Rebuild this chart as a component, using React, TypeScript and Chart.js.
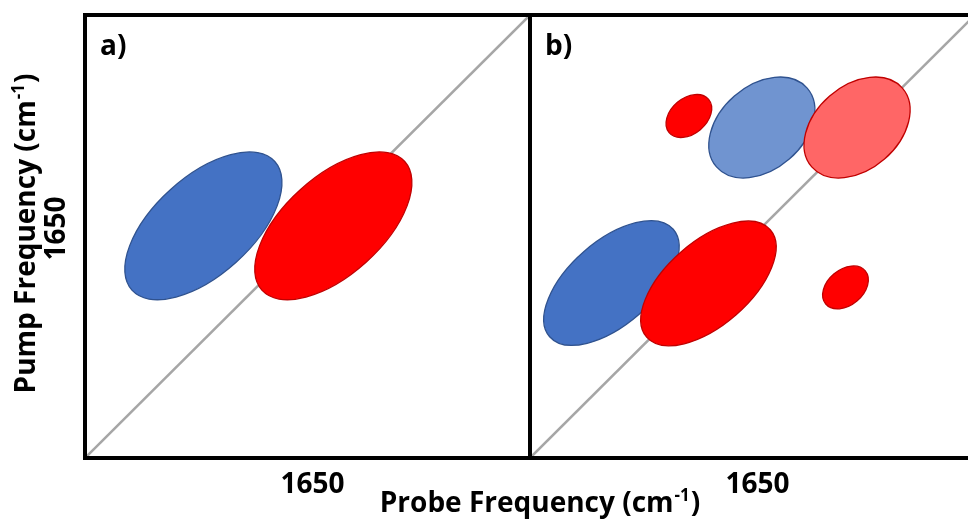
import React, { useEffect, useRef } from 'react';
import { Chart, registerables } from 'chart.js';

Chart.register(...registerables);

// ---- data ----
const panelLabels = ['a)', 'b)'];
const panelStarts = [0, 1];
const xTickValues = [0.5, 1.5];
const xTickLabels = ['1650', '1650'];
const yTickValues = [0.5];
const yTickLabels = ['1650'];
const xTitleMain = 'Probe Frequency (cm';
const yTitleMain = 'Pump Frequency (cm';
const titleSup = '-1';
const titleTail = ')';

const diagonalA = [{ x: 0, y: 0 }, { x: 1, y: 1 }];
const diagonalB = [{ x: 1, y: 0 }, { x: 2, y: 1 }];

// peak centres (probe, pump), semi-axes and tilt
const peakX = [0.266, 0.558, 1.357, 1.521, 1.735, 1.183, 1.401, 1.709];
const peakY = [0.524, 0.524, 0.772, 0.746, 0.746, 0.395, 0.394, 0.385];
const peakMajor = [0.216, 0.216, 0.058, 0.135, 0.135, 0.184, 0.184, 0.058];
const peakMinor = [0.110, 0.110, 0.040, 0.094, 0.094, 0.094, 0.094, 0.040];
const peakTilt = [42, 42, 40, 41, 41, 41, 41, 40];
const peakKind = ['neg', 'pos', 'pos', 'negWeak', 'posWeak', 'neg', 'pos', 'pos'];

const KIND_STYLE: Record<string, { fill: string; stroke: string }> = {
  neg: { fill: '#4472C4', stroke: '#2F528F' },
  pos: { fill: '#FF0000', stroke: '#C00000' },
  negWeak: { fill: '#7094D0', stroke: '#2F528F' },
  posWeak: { fill: '#FF6666', stroke: '#C00000' },
};

const FONT = '"Open Sans", "DejaVu Sans", sans-serif';
const CANVAS_W = 990;
const CANVAS_H = 519;

function drawSupText(
  ctx: CanvasRenderingContext2D,
  main: string,
  sup: string,
  tail: string,
  cx: number,
  baseline: number,
  size: number
) {
  const mainFont = `bold ${size}px ${FONT}`;
  const supFont = `bold ${Math.round(size * 0.6)}px ${FONT}`;
  ctx.font = mainFont;
  const w1 = ctx.measureText(main).width;
  const w3 = ctx.measureText(tail).width;
  ctx.font = supFont;
  const w2 = ctx.measureText(sup).width;
  const start = cx - (w1 + w2 + w3) / 2;
  ctx.textAlign = 'left';
  ctx.textBaseline = 'alphabetic';
  ctx.font = mainFont;
  ctx.fillText(main, start, baseline);
  ctx.font = supFont;
  ctx.fillText(sup, start + w1 + 1, baseline - size * 0.4);
  ctx.font = mainFont;
  ctx.fillText(tail, start + w1 + w2 + 2, baseline);
}

const spectraPlugin = {
  id: 'spectra',
  afterDatasetsDraw(chart: any) {
    const ctx: CanvasRenderingContext2D = chart.ctx;
    const xs = chart.scales.x;
    const ys = chart.scales.y;
    const unit = xs.getPixelForValue(1) - xs.getPixelForValue(0);
    ctx.save();
    for (let i = 0; i < peakX.length; i++) {
      const st = KIND_STYLE[peakKind[i]];
      const px = xs.getPixelForValue(peakX[i]);
      const py = ys.getPixelForValue(peakY[i]);
      ctx.beginPath();
      ctx.ellipse(px, py, peakMajor[i] * unit, peakMinor[i] * unit, (-peakTilt[i] * Math.PI) / 180, 0, Math.PI * 2);
      ctx.fillStyle = st.fill;
      ctx.fill();
      ctx.lineWidth = 1.3;
      ctx.strokeStyle = st.stroke;
      ctx.stroke();
    }
    ctx.restore();
  },
  afterDraw(chart: any) {
    const ctx: CanvasRenderingContext2D = chart.ctx;
    const xs = chart.scales.x;
    const ys = chart.scales.y;
    const area = chart.chartArea;
    ctx.save();
    // panel frames
    ctx.strokeStyle = '#000000';
    ctx.lineWidth = 4;
    ctx.strokeRect(area.left, area.top, area.right - area.left, area.bottom - area.top);
    for (let i = 1; i < panelStarts.length; i++) {
      const x = xs.getPixelForValue(panelStarts[i]);
      ctx.beginPath();
      ctx.moveTo(x, area.top - 2);
      ctx.lineTo(x, area.bottom + 2);
      ctx.stroke();
    }
    ctx.fillStyle = '#000000';
    // panel labels
    ctx.font = `bold 28px ${FONT}`;
    ctx.textAlign = 'left';
    ctx.textBaseline = 'alphabetic';
    panelLabels.forEach((lab, i) => {
      const x = xs.getPixelForValue(panelStarts[i]);
      ctx.fillText(lab, x + 15, area.top + 40);
    });
    // x ticks
    ctx.textAlign = 'center';
    xTickValues.forEach((v, i) => {
      ctx.fillText(xTickLabels[i], xs.getPixelForValue(v) + 5, area.bottom + 35);
    });
    // y ticks (rotated)
    yTickValues.forEach((v, i) => {
      ctx.save();
      ctx.translate(area.left - 20, ys.getPixelForValue(v) - 8);
      ctx.rotate(-Math.PI / 2);
      ctx.textAlign = 'center';
      ctx.fillText(yTickLabels[i], 0, 0);
      ctx.restore();
    });
    // x title
    drawSupText(ctx, xTitleMain, titleSup, titleTail, (area.left + area.right) / 2 + 9, area.bottom + 54, 28);
    // y title
    ctx.save();
    ctx.translate(area.left - 50, (area.top + area.bottom) / 2 - 2);
    ctx.rotate(-Math.PI / 2);
    drawSupText(ctx, yTitleMain, titleSup, titleTail, 0, 0, 28);
    ctx.restore();
    ctx.restore();
  },
};

export default function App() {
  const ref = useRef<HTMLCanvasElement | null>(null);
  useEffect(() => {
    if (!ref.current) return;
    const chart = new Chart(ref.current, {
      type: 'scatter',
      data: {
        datasets: [
          {
            type: 'line',
            data: diagonalA,
            borderColor: '#A6A6A6',
            borderWidth: 2.5,
            pointRadius: 0,
            showLine: true,
          },
          {
            type: 'line',
            data: diagonalB,
            borderColor: '#A6A6A6',
            borderWidth: 2.5,
            pointRadius: 0,
            showLine: true,
          },
        ],
      } as any,
      options: {
        animation: false,
        responsive: false,
        devicePixelRatio: 1,
        layout: { padding: { left: 85, right: CANVAS_W - 975, top: 15, bottom: CANVAS_H - 458 } },
        plugins: { legend: { display: false }, tooltip: { enabled: false } },
        scales: {
          x: { type: 'linear', min: 0, max: 2, display: false },
          y: { type: 'linear', min: 0, max: 1, display: false },
        },
      },
      plugins: [spectraPlugin],
    });
    return () => chart.destroy();
  }, []);
  return (
    <div style={{ position: 'fixed', left: 0, top: 0, width: 968, height: CANVAS_H, overflow: 'hidden', background: '#fff' }}>
      <canvas ref={ref} width={CANVAS_W} height={CANVAS_H} style={{ display: 'block', width: CANVAS_W, height: CANVAS_H }} />
    </div>
  );
}
